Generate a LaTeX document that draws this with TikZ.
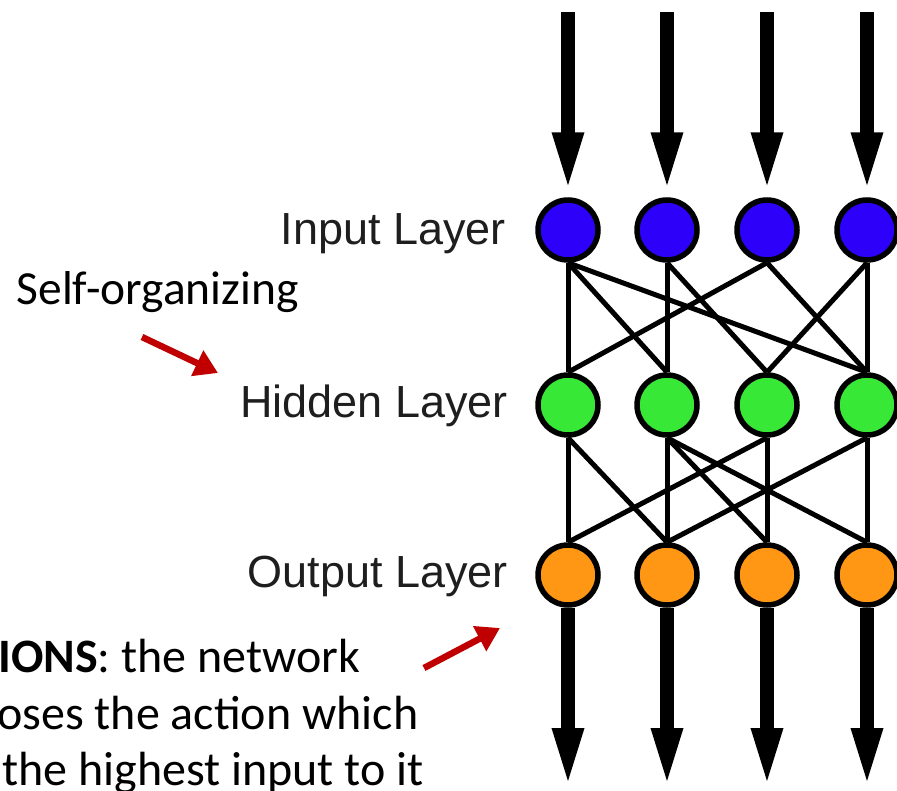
\documentclass[tikz,border=0pt]{standalone}
\usepackage{fontspec}
\setmainfont{Carlito}
\newfontfamily\arialf{Liberation Sans}
\usetikzlibrary{arrows.meta}
\definecolor{inblue}{RGB}{45,0,250}
\definecolor{hidgreen}{RGB}{55,232,55}
\definecolor{outorange}{RGB}{255,150,20}
\definecolor{arrowred}{RGB}{192,0,0}
\definecolor{labelgray}{RGB}{30,30,30}
\begin{document}
\begin{tikzpicture}[x=1pt,y=-1pt,
  neuron/.style={circle, draw=black, line width=5.5pt, minimum size=60pt, inner sep=0pt},
  inN/.style={neuron, fill=inblue},
  hidN/.style={neuron, fill=hidgreen},
  outN/.style={neuron, fill=outorange},
  link/.style={line width=5pt},
  bigarrow/.style={line width=13.5pt, -{Triangle[length=60pt,width=28pt]}},
  redarrow/.style={draw=arrowred, line width=6.5pt, -{Triangle[length=23pt,width=27pt]}},
  layerlabel/.style={font=\arialf\fontsize{45}{54}\selectfont, text=labelgray, anchor=base east, inner sep=0pt},
  note/.style={font=\fontsize{47.5}{57}\selectfont, anchor=base east, inner sep=0pt},
  bnote/.style={font=\fontsize{48}{57}\selectfont, anchor=base west, inner sep=0pt}]
\useasboundingbox (0,0) rectangle (897,790);
\clip (0,0) rectangle (897,790);
% neurons
\foreach \i/\x in {1/568,2/667,3/767,4/867}{
  \node[inN]  (in\i)  at (\x,230) {};
  \node[hidN] (hid\i) at (\x,405) {};
  \node[outN] (out\i) at (\x,575) {};
  \coordinate (top\i) at (\x,12);
  \coordinate (bot\i) at (\x,788);
}
% input -> hidden
\foreach \a/\b in {1/1,1/2,1/4,2/2,2/3,3/1,3/4,4/3,4/4}{
  \draw[link] (in\a.south) -- (hid\b.north);
}
% hidden -> output
\foreach \a/\b in {1/1,1/2,2/2,2/3,2/4,3/1,3/3,4/2,4/4}{
  \draw[link] (hid\a.south) -- (out\b.north);
}
% big arrows
\foreach \i in {1,2,3,4}{
  \draw[bigarrow, shorten >=5pt] (top\i) -- (in\i.north);
  \draw[bigarrow] (out\i.south) -- (bot\i);
}
% labels
\node[layerlabel] (lin)  at (506,244) {Input Layer};
\node[layerlabel] (lhid) at (508,417) {Hidden Layer};
\node[layerlabel] (lout) at (508,587) {Output Layer};
% annotations
\node[note] (self) at (299,304) {Self-organizing};
\coordinate (r1s) at (142,337);
\coordinate (r1e) at (218,373);
\draw[redarrow] (r1s) -- (r1e);
\coordinate (r2s) at (424,668);
\coordinate (r2e) at (500,628);
\draw[redarrow] (r2s) -- (r2e);
\node[bnote] (n1) at (-2,672) {\textbf{IONS}: the network};
\node[bnote] (n2) at (-3,729) {oses the action which};
\node[bnote] (n3) at (2,785) {the highest input to it};
\end{tikzpicture}
\end{document}
